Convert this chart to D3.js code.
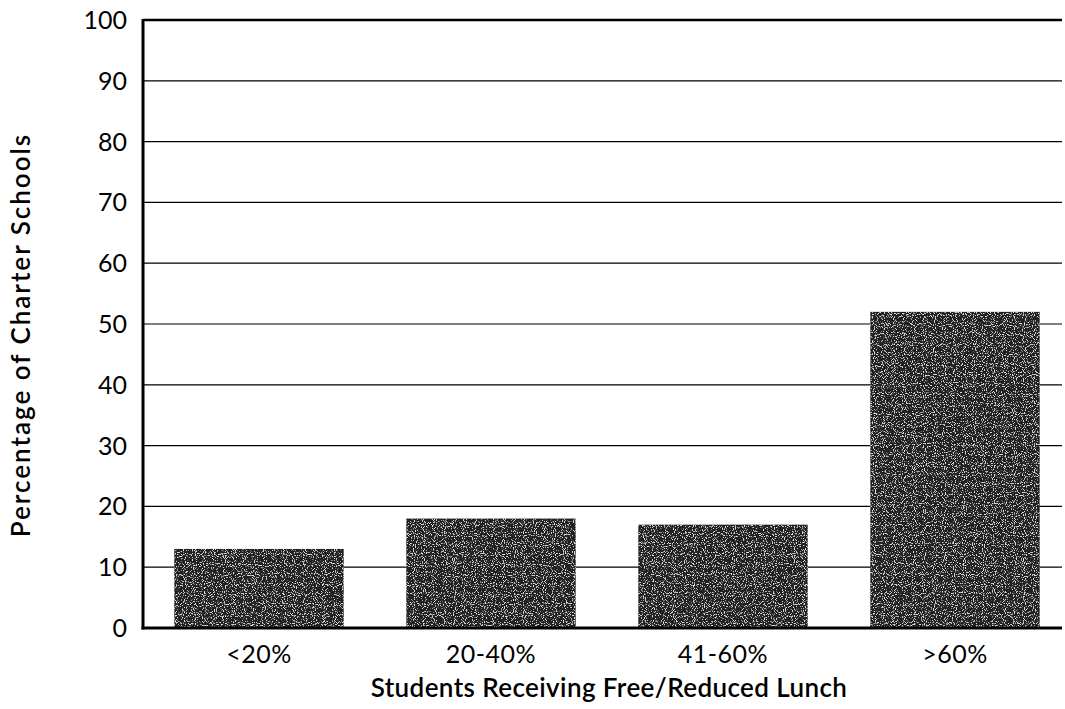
<!DOCTYPE html>
<html>
<head>
<meta charset="utf-8">
<script src="https://cdn.jsdelivr.net/npm/d3@7"></script>
<style>
  body { margin: 0; background: #fff; }
  svg { display: block; }
  text { font-family: "Lato", "Open Sans", sans-serif; fill: #000; }
</style>
</head>
<body>
<div id="chart"></div>
<script>
const categories = ["<20%", "20-40%", "41-60%", ">60%"];
const values = [13, 18, 17, 52];
const yTicks = [0, 10, 20, 30, 40, 50, 60, 70, 80, 90, 100];

const width = 1065, height = 709;
const margin = {left: 143, right: 3, top: 20, bottom: 81};

const svg = d3.select("#chart").append("svg")
    .attr("width", width).attr("height", height);

// speckle texture for the bars
const defs = svg.append("defs");
const filt = defs.append("filter").attr("id", "grain")
    .attr("x", 0).attr("y", 0).attr("width", 1).attr("height", 1);
filt.append("feTurbulence").attr("type", "fractalNoise")
    .attr("baseFrequency", 0.9).attr("numOctaves", 1).attr("seed", 3).attr("result", "noise");
filt.append("feColorMatrix").attr("in", "noise").attr("type", "matrix")
    .attr("values", "0 0 0 0 0.7  0 0 0 0 0.7  0 0 0 0 0.7  0 0 0 9 -5.0").attr("result", "dots");
filt.append("feComposite").attr("in", "dots").attr("in2", "SourceGraphic").attr("operator", "in").attr("result", "d2");
filt.append("feMerge").selectAll("feMergeNode").data(["SourceGraphic", "d2"])
    .enter().append("feMergeNode").attr("in", d => d);

const x = d3.scaleBand().domain(categories)
    .range([margin.left, 1071]).paddingInner(0.27).paddingOuter(0.135);
const y = d3.scaleLinear().domain([0, 100]).range([628, margin.top]);

// gridlines
svg.append("g").selectAll("line").data(yTicks.filter(d => d > 0 && d < 100))
    .enter().append("line")
    .attr("x1", margin.left).attr("x2", 1062)
    .attr("y1", d => y(d)).attr("y2", d => y(d))
    .attr("stroke", "#000").attr("stroke-width", 1.2);

// top line
svg.append("line").attr("x1", margin.left).attr("x2", 1062)
    .attr("y1", y(100)).attr("y2", y(100))
    .attr("stroke", "#000").attr("stroke-width", 2.5);

// bars
svg.append("g").selectAll("rect").data(values)
    .enter().append("rect")
    .attr("x", (d, i) => x(categories[i]))
    .attr("width", x.bandwidth())
    .attr("y", d => y(d))
    .attr("height", d => y(0) - y(d))
    .attr("fill", "#222")
    .attr("filter", "url(#grain)");

// axes lines
svg.append("line").attr("x1", margin.left).attr("x2", margin.left)
    .attr("y1", y(100) - 1).attr("y2", y(0) + 1.5)
    .attr("stroke", "#000").attr("stroke-width", 3);
svg.append("line").attr("x1", margin.left - 1.5).attr("x2", 1062)
    .attr("y1", y(0)).attr("y2", y(0))
    .attr("stroke", "#000").attr("stroke-width", 3);

// y tick labels
svg.append("g").selectAll("text").data(yTicks)
    .enter().append("text")
    .attr("x", 127).attr("y", d => y(d))
    .attr("dy", "0.36em").attr("text-anchor", "end")
    .style("font-size", "25px")
    .text(d => d);

// x tick labels
svg.append("g").selectAll("text").data(categories)
    .enter().append("text")
    .attr("x", d => x(d) + x.bandwidth() / 2).attr("y", 663)
    .attr("text-anchor", "middle")
    .style("font-size", "25px")
    .style("letter-spacing", "0.5px")
    .text(d => d);

// axis titles
svg.append("text")
    .attr("x", 609).attr("y", 697)
    .attr("text-anchor", "middle")
    .style("font-size", "26px").style("font-weight", "600")
    .style("letter-spacing", "0.4px")
    .text("Students Receiving Free/Reduced Lunch");

svg.append("text")
    .attr("transform", `translate(30,${335}) rotate(-90)`)
    .attr("text-anchor", "middle")
    .style("font-size", "26px").style("font-weight", "600")
    .style("letter-spacing", "2px")
    .text("Percentage of Charter Schools");
</script>
</body>
</html>
